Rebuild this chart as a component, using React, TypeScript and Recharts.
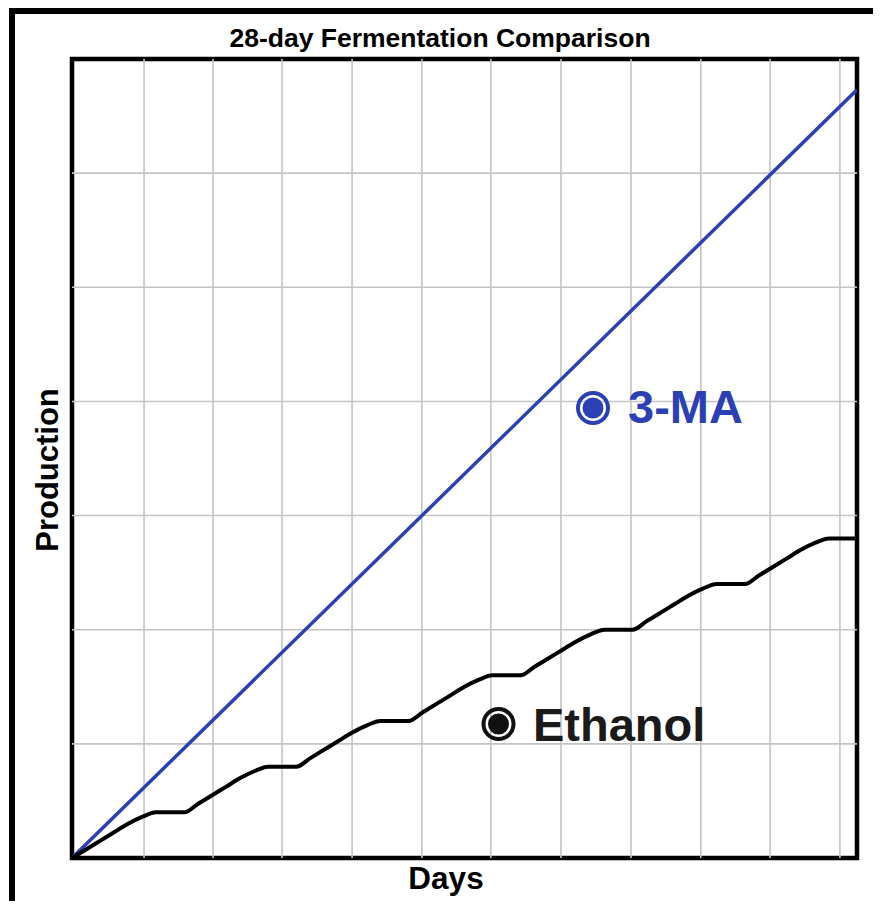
import React from "react";
import { LineChart, Line, XAxis, YAxis, ReferenceArea, ReferenceLine } from "recharts";

// ---- data ----
const days = [
  0, 0.5, 1, 1.5, 2, 2.5, 3, 3.5, 4, 4.5, 5, 5.5, 6, 6.5, 7, 7.5, 8, 8.5, 9, 9.5,
  10, 10.5, 11, 11.5, 12, 12.5, 13, 13.5, 14, 14.5, 15, 15.5, 16, 16.5, 17, 17.5,
  18, 18.5, 19, 19.5, 20, 20.5, 21, 21.5, 22, 22.5, 23, 23.5, 24, 24.5, 25, 25.5,
  26, 26.5, 27, 27.5, 28,
];
const ethanol = [
  0.0, 0.075, 0.15, 0.225, 0.3, 0.36, 0.4, 0.4, 0.4,
  0.475, 0.55, 0.625, 0.7, 0.76, 0.8, 0.8, 0.8,
  0.875, 0.95, 1.025, 1.1, 1.16, 1.2, 1.2, 1.2,
  1.275, 1.35, 1.425, 1.5, 1.56, 1.6, 1.6, 1.6,
  1.675, 1.75, 1.825, 1.9, 1.96, 2.0, 2.0, 2.0,
  2.075, 2.15, 2.225, 2.3, 2.36, 2.4, 2.4, 2.4,
  2.475, 2.55, 2.625, 2.7, 2.76, 2.8, 2.8, 2.8,
];
const maDays = [0, 28];
const ma3 = [0, 6.73];

const xGridTicks = [2.57, 5.03, 7.49, 9.99, 12.48, 14.94, 17.44, 19.94, 22.43, 24.9, 27.39];
const yGridTicks = [1, 2, 3, 4, 5, 6];

const title = "28-day Fermentation Comparison";
const xLabel = "Days";
const yLabel = "Production";
const maLabel = "3-MA";
const ethLabel = "Ethanol";

const ethanolData = days.map((d, i) => ({ day: d, value: ethanol[i] }));
const maData = maDays.map((d, i) => ({ day: d, value: ma3[i] }));

const BLUE = "#2b40b3";
const GRID = "#c4c4c4";
const FONT = "'Liberation Sans', Arial, Helvetica, sans-serif";

export default function App() {
  return (
    <div
      style={{
        position: "relative",
        margin: -8,
        width: 881,
        height: 909,
        overflow: "hidden",
        background: "#fff",
        fontFamily: FONT,
      }}
    >
      <div
        style={{
          position: "absolute",
          left: 330,
          top: -22,
          width: 420,
          height: 32,
          background:
            "radial-gradient(ellipse at center, rgba(185,200,228,0.55), rgba(255,255,255,0) 70%)",
        }}
      />
      <div
        style={{
          position: "absolute",
          left: 9,
          top: 8,
          width: 1000,
          height: 900,
          boxSizing: "border-box",
          border: "6px solid #000",
        }}
      />
      <div style={{ position: "absolute", left: 0, top: 0 }}>
        <LineChart
          width={881}
          height={909}
          margin={{ top: 59, right: 24, bottom: 51, left: 72 }}
        >
          <XAxis
            dataKey="day"
            type="number"
            domain={[0, 28]}
            ticks={xGridTicks}
            allowDataOverflow
            hide
          />
          <YAxis
            type="number"
            domain={[0, 7]}
            ticks={yGridTicks}
            allowDataOverflow
            hide
          />
          {xGridTicks.map((t) => (
            <ReferenceLine key={"vx" + t} x={t} stroke={GRID} strokeWidth={1.6} />
          ))}
          {yGridTicks.map((t) => (
            <ReferenceLine key={"hy" + t} y={t} stroke={GRID} strokeWidth={1.6} />
          ))}
          <Line
            data={maData}
            dataKey="value"
            type="linear"
            stroke={BLUE}
            strokeWidth={3.5}
            dot={false}
            isAnimationActive={false}
          />
          <Line
            data={ethanolData}
            dataKey="value"
            type="monotone"
            stroke="#000"
            strokeWidth={4}
            dot={false}
            isAnimationActive={false}
          />
          <ReferenceArea
            x1={0}
            x2={28}
            y1={0}
            y2={7}
            fill="none"
            fillOpacity={0}
            stroke="#000"
            strokeWidth={4.5}
          />
        </LineChart>
      </div>
      <svg
        width={881}
        height={909}
        style={{ position: "absolute", left: 0, top: 0, pointerEvents: "none" }}
      >
        <text
          x={440}
          y={47}
          textAnchor="middle"
          fontFamily={FONT}
          fontWeight="bold"
          fontSize={26.5}
          fill="#000"
        >
          {title}
        </text>
        <text
          x={446}
          y={889}
          textAnchor="middle"
          fontFamily={FONT}
          fontWeight="bold"
          fontSize={31.5}
          fill="#000"
        >
          {xLabel}
        </text>
        <text
          transform="translate(58,470) rotate(-90)"
          textAnchor="middle"
          fontFamily={FONT}
          fontWeight="bold"
          fontSize={31}
          fill="#000"
        >
          {yLabel}
        </text>
        <circle cx={593} cy={408} r={15} fill="none" stroke={BLUE} strokeWidth={4} />
        <circle cx={593} cy={408} r={10.5} fill={BLUE} />
        <text
          x={628}
          y={423}
          fontFamily={FONT}
          fontWeight="bold"
          fontSize={47}
          fill={BLUE}
        >
          {maLabel}
        </text>
        <circle cx={498.5} cy={724} r={15} fill="none" stroke="#111" strokeWidth={4} />
        <circle cx={498.5} cy={724} r={10.5} fill="#111" />
        <text
          x={533}
          y={741}
          fontFamily={FONT}
          fontWeight="bold"
          fontSize={47}
          fill="#1a1a1a"
        >
          {ethLabel}
        </text>
      </svg>
    </div>
  );
}
